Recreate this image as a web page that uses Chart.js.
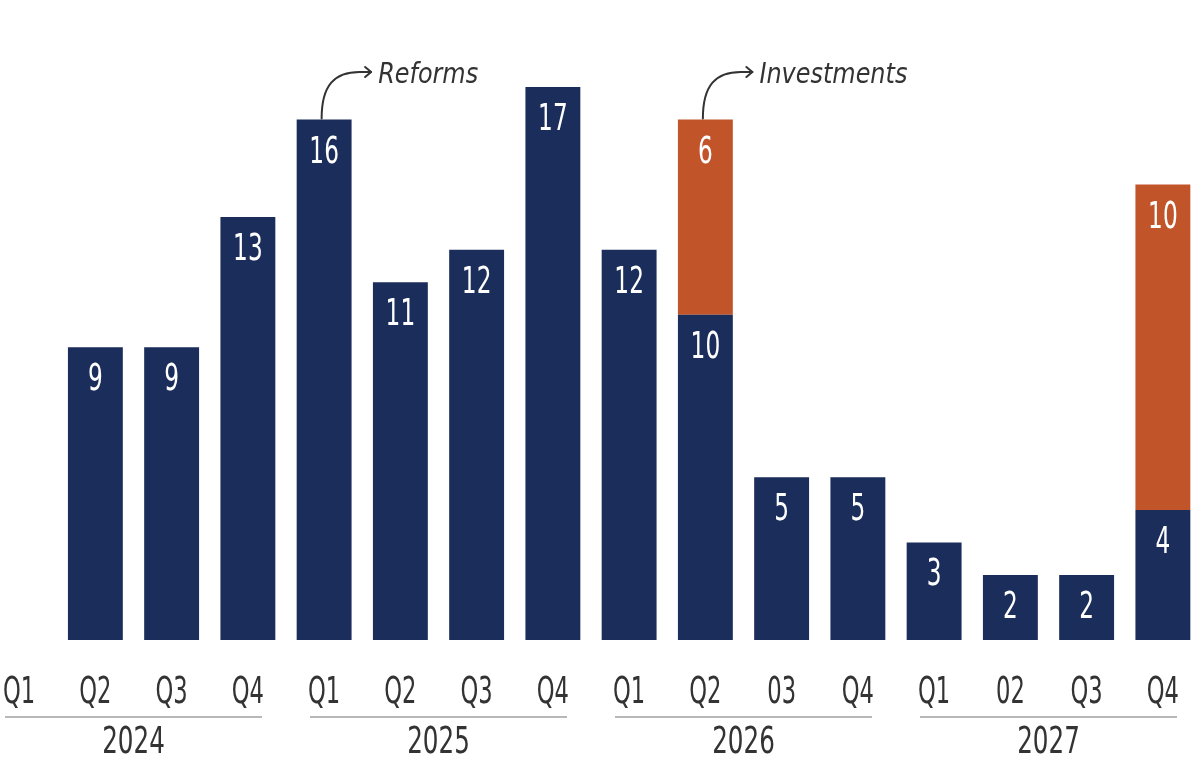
<!DOCTYPE html>
<html>
<head>
<meta charset="utf-8">
<script src="https://cdn.jsdelivr.net/npm/chart.js@4"></script>
<style>
  html, body { margin: 0; padding: 0; background: #fff; overflow: hidden; }
  #wrap { position: absolute; left: -19px; top: 0; width: 1220px; height: 765px; }
</style>
</head>
<body>
<div id="wrap"><canvas id="chart"></canvas></div>
<script>
// 資料
const quarterLabels = ['Q1', 'Q2', 'Q3', 'Q4', 'Q1', 'Q2', 'Q3', 'Q4', 'Q1', 'Q2', '03', 'Q4', 'Q1', '02', 'Q3', 'Q4'];
const yearLabels = ['2024', '2025', '2026', '2027'];
const reforms = [null, 9, 9, 13, 16, 11, 12, 17, 12, 10, 5, 5, 3, 2, 2, 4];
const investments = [null, null, null, null, null, null, null, null, null, 6, null, null, null, null, null, 10];
// 註解：[系列索引, 類別索引, 文字]
const callouts = [[0, 4, 'Reforms'], [1, 9, 'Investments']];

const COLORS = {
    navy: '#1b2d5a',
    orange: '#c2542a',
    text: '#333333',
    rule: '#a0a0a0'
};

const FONT = '"DejaVu Sans Condensed", "Liberation Sans Narrow", sans-serif';

function squeezedText(ctx, text, x, y, size, color, squeeze, style, align) {
    ctx.save();
    ctx.font = (style || '') + ' ' + size + 'px ' + FONT;
    ctx.fillStyle = color;
    ctx.textAlign = align || 'center';
    ctx.textBaseline = 'alphabetic';
    ctx.translate(x, y);
    ctx.scale(squeeze, 1);
    ctx.fillText(text, 0, 0);
    ctx.restore();
}

// 標籤、年份、註解
const decorPlugin = {
    id: 'decor',
    afterDatasetsDraw(chart) {
        const ctx = chart.ctx;
        const xs = chart.scales.x;
        const bottom = chart.chartArea.bottom;

        // 長條內數值
        chart.data.datasets.forEach((ds, di) => {
            const meta = chart.getDatasetMeta(di);
            meta.data.forEach((bar, i) => {
                const v = ds.data[i];
                if (v === null || v === undefined) return;
                squeezedText(ctx, String(v), bar.x, bar.y + 43, 38, '#ffffff', 0.68);
            });
        });

        // 季度標籤
        quarterLabels.forEach((q, i) => {
            squeezedText(ctx, q, xs.getPixelForValue(i), bottom + 63, 37, COLORS.text, 0.68);
        });

        // 年份與分隔線
        const step = xs.getPixelForValue(1) - xs.getPixelForValue(0);
        yearLabels.forEach((yr, g) => {
            const left = xs.getPixelForValue(g * 4) - step / 2;
            const right = xs.getPixelForValue(g * 4 + 3) + step / 2;
            ctx.save();
            ctx.strokeStyle = COLORS.rule;
            ctx.lineWidth = 1.5;
            ctx.beginPath();
            ctx.moveTo(left + 24, bottom + 77);
            ctx.lineTo(right - 24, bottom + 77);
            ctx.stroke();
            ctx.restore();
            squeezedText(ctx, yr, (left + right) / 2, bottom + 113, 37, COLORS.text, 0.74);
        });

        // 箭頭註解
        callouts.forEach(([di, idx, text]) => {
            const bar = chart.getDatasetMeta(di).data[idx];
            const sx = bar.x - 2.5;
            const sy = bar.y - 1;
            const ty = 72;
            const ex = bar.x + 47;
            ctx.save();
            ctx.strokeStyle = COLORS.text;
            ctx.lineWidth = 2;
            ctx.lineCap = 'round';
            ctx.lineJoin = 'round';
            ctx.beginPath();
            ctx.moveTo(sx, sy);
            ctx.bezierCurveTo(sx, ty + 13, sx + 13, ty, sx + 38, ty);
            ctx.lineTo(ex, ty);
            ctx.stroke();
            ctx.beginPath();
            ctx.moveTo(ex - 6, ty - 5);
            ctx.lineTo(ex, ty);
            ctx.lineTo(ex - 6, ty + 5);
            ctx.stroke();
            ctx.restore();
            squeezedText(ctx, text, ex + 7, ty + 11, 28, COLORS.text, 0.95, 'italic', 'left');
        });
    }
};

new Chart(document.getElementById('chart').getContext('2d'), {
    type: 'bar',
    data: {
        labels: quarterLabels,
        datasets: [
            { label: 'Reforms', data: reforms, backgroundColor: COLORS.navy, borderWidth: 0 },
            { label: 'Investments', data: investments, backgroundColor: COLORS.orange, borderWidth: 0 }
        ]
    },
    options: {
        responsive: true,
        maintainAspectRatio: false,
        animation: false,
        layout: { padding: { left: 0, right: 0, top: 87, bottom: 125 } },
        datasets: { bar: { barPercentage: 0.72, categoryPercentage: 1 } },
        plugins: { legend: { display: false }, tooltip: { enabled: false } },
        scales: {
            x: { stacked: true, display: false },
            y: { stacked: true, display: false, min: 0, max: 17 }
        }
    },
    plugins: [decorPlugin]
});
</script>
</body>
</html>
